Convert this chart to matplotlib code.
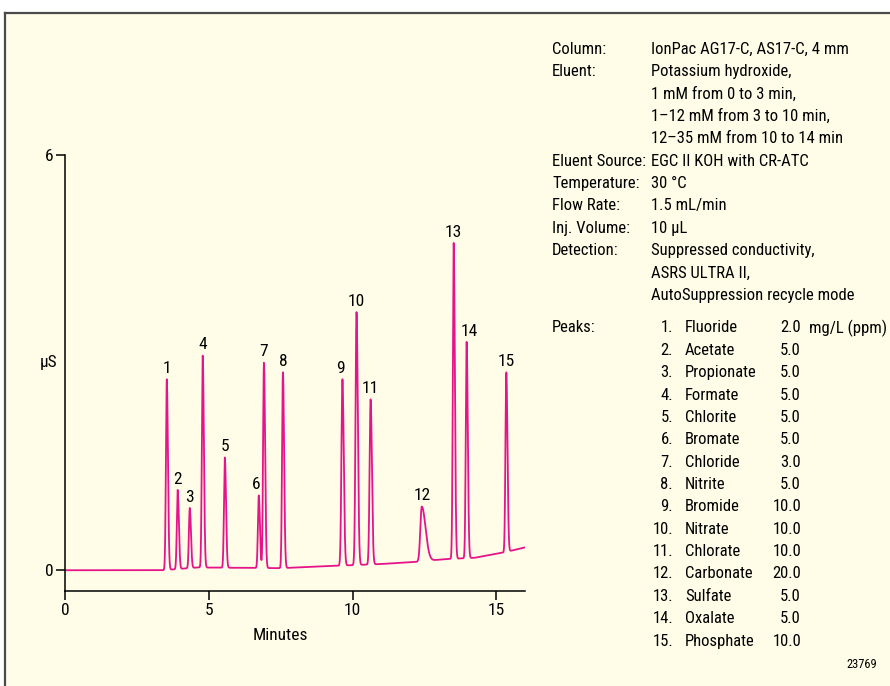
import numpy as np
import matplotlib.pyplot as plt
import matplotlib.font_manager as fm
from matplotlib.patches import Rectangle
from matplotlib.lines import Line2D

# pick a narrow sans font if one is installed
narrow = [f for f in fm.fontManager.ttflist
          if ('Narrow' in f.fname or 'Condensed' in f.fname)
          and not any(s in f.fname for s in ['Bold', 'Italic', 'Oblique', 'Light', 'Thin', 'Medium', 'Black', 'Semi', 'Extra'])]
narrow.sort(key=lambda f: (0 if 'Liberation' in f.fname else 1 if 'Roboto' in f.fname else 2))
if narrow:
    plt.rcParams['font.family'] = [narrow[0].name, 'DejaVu Sans']
    plt.rcParams['font.stretch'] = narrow[0].stretch
else:
    plt.rcParams['font.family'] = ['DejaVu Sans']

# peak table
peak_no = list(range(1, 16))
peak_time = [3.54, 3.92, 4.34, 4.79, 5.56, 6.74, 6.92, 7.58, 9.65, 10.14, 10.63, 12.41, 13.52, 13.97, 15.35]
peak_apex = [2.76, 1.16, 0.90, 3.10, 1.63, 1.08, 3.00, 2.86, 2.76, 3.73, 2.47, 0.92, 4.73, 3.30, 2.86]
peak_sig_l = [0.03, 0.03, 0.03, 0.03, 0.03, 0.03, 0.03, 0.03, 0.035, 0.035, 0.035, 0.05, 0.03, 0.03, 0.03]
peak_sig_r = [0.04, 0.04, 0.04, 0.04, 0.04, 0.04, 0.04, 0.04, 0.045, 0.045, 0.045, 0.13, 0.04, 0.04, 0.04]

# baseline drift
base_t = [0.0, 3.4, 4.6, 7.5, 9.2, 11.0, 12.2, 13.2, 14.25, 15.3, 16.0]
base_v = [0.0, 0.0, 0.04, 0.03, 0.06, 0.09, 0.12, 0.16, 0.18, 0.26, 0.33]

cond_keys = ["Column:", "Eluent:", "", "", "", "Eluent Source:", "Temperature:", "Flow Rate:",
             "Inj. Volume:", "Detection:", "", ""]
cond_vals = ["IonPac AG17-C, AS17-C, 4 mm", "Potassium hydroxide,", "1 mM from 0 to 3 min,",
             "1–12 mM from 3 to 10 min,", "12–35 mM from 10 to 14 min", "EGC II KOH with CR-ATC",
             "30 °C", "1.5 mL/min", "10 µL", "Suppressed conductivity,", "ASRS ULTRA II,",
             "AutoSuppression recycle mode"]

analytes = ["Fluoride", "Acetate", "Propionate", "Formate", "Chlorite", "Bromate", "Chloride", "Nitrite",
            "Bromide", "Nitrate", "Chlorate", "Carbonate", "Sulfate", "Oxalate", "Phosphate"]
conc = ["2.0", "5.0", "5.0", "5.0", "5.0", "5.0", "3.0", "5.0", "10.0", "10.0", "10.0", "20.0", "5.0", "5.0", "10.0"]

label_nudge = {6: -2.2, 9: -1.5, 14: 2.2}

W, H = 890, 686
cream = '#FFFDE8'
pink = '#E5148A'


def px(x, y):
    return x / W, 1 - y / H


fig = plt.figure(figsize=(W / 100, H / 100), dpi=100, facecolor='white')
fig.patches.append(Rectangle(px(4.5, 686), 1, 1 - 12.5 / H, transform=fig.transFigure,
                             facecolor=cream, edgecolor='none', zorder=-10))
fig.lines.append(Line2D([4.5 / W, 1], [1 - 12.5 / H] * 2, transform=fig.transFigure, color='#4a4a4a', lw=1.6))
fig.lines.append(Line2D([4.5 / W] * 2, [0, 1 - 12.5 / H], transform=fig.transFigure, color='#4a4a4a', lw=1.6))

ax = fig.add_axes([65 / W, (H - 591) / H, 460 / W, 436 / H])
ax.set_facecolor('none')

t = np.linspace(0, 16, 6000)
y = np.interp(t, base_t, base_v)
for t0, a, sl, sr in zip(peak_time, peak_apex, peak_sig_l, peak_sig_r):
    amp = a - np.interp(t0, base_t, base_v)
    s = np.where(t < t0, sl, sr)
    y = y + amp * np.exp(-0.5 * ((t - t0) / s) ** 2)
ax.plot(t, y, color=pink, lw=1.3)

for n, t0, a in zip(peak_no, peak_time, peak_apex):
    ax.annotate(str(n), (t0, a), xytext=(label_nudge.get(n, 0), 4.5), textcoords='offset points',
                ha='center', va='baseline', fontsize=12.5)

ax.set_xlim(0, 16)
ax.set_ylim(-0.3, 6)
ax.set_xticks([0, 5, 10, 15])
ax.set_yticks([0, 6])
ax.tick_params(direction='out', length=6.5, width=1.1, labelsize=12.5, pad=2)
for side in ['top', 'right']:
    ax.spines[side].set_visible(False)
for side in ['left', 'bottom']:
    ax.spines[side].set_linewidth(1.1)
ax.set_xlabel("Minutes", fontsize=12.5)
ax.xaxis.set_label_coords(7.5 / 16, -0.085)
ax.set_ylabel("µS", fontsize=12.5, rotation=0, ha='right', va='center')
ax.yaxis.set_label_coords(-8 / 460, 0.525)

fs = 12.0
step = 22.4
for i, (k, v) in enumerate(zip(cond_keys, cond_vals)):
    yy = 49 + i * step
    if k:
        fig.text(*px(552, yy), k, fontsize=fs, va='center', ha='left')
    fig.text(*px(651, yy), v, fontsize=fs, va='center', ha='left')

fig.text(*px(552, 328), "Peaks:", fontsize=fs, va='center', ha='left')
for i, (name, c) in enumerate(zip(analytes, conc)):
    yy = 328 + i * 22.36
    fig.text(*px(673, yy), f"{i + 1}.", fontsize=fs, va='center', ha='right')
    fig.text(*px(685, yy), name, fontsize=fs, va='center', ha='left')
    fig.text(*px(801, yy), c, fontsize=fs, va='center', ha='right')
fig.text(*px(809, 328), "mg/L (ppm)", fontsize=fs, va='center', ha='left')
fig.text(*px(877, 665), "23769", fontsize=9, va='center', ha='right')

fig.savefig('out.png', dpi=100, facecolor=fig.get_facecolor())
